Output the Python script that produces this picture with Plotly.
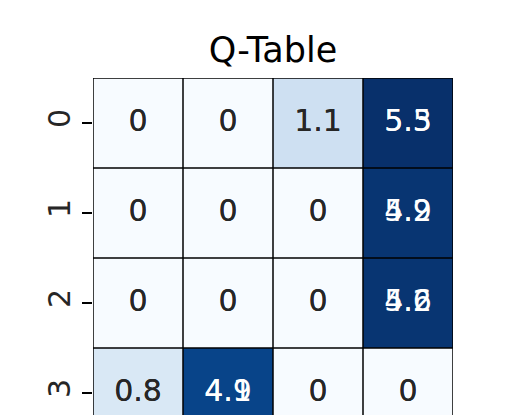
import plotly.graph_objects as go

# Visible part of the Q-table (rows = states, columns = actions)
states = [0, 1, 2, 3]
actions = [0, 1, 2, 3]
q_current = [
    [0.0, 0.0, 1.1, 5.3],
    [0.0, 0.0, 0.0, 5.2],
    [0.0, 0.0, 0.0, 5.2],
    [0.8, 4.9, 0.0, 0.0],
]
# values from the earlier drawing whose labels show underneath
q_previous = [
    [0.0, 0.0, 1.1, 5.5],
    [0.0, 0.0, 0.0, 4.9],
    [0.0, 0.0, 0.0, 4.6],
    [0.8, 4.1, 0.0, 0.0],
]

blues = [
    [0.0, "#f7fbff"], [0.125, "#deebf7"], [0.25, "#c6dbef"], [0.375, "#9ecae1"],
    [0.5, "#6baed6"], [0.625, "#4292c6"], [0.75, "#2171b5"], [0.875, "#08519c"],
    [1.0, "#08306b"],
]
vmax = max(max(r) for r in q_current)
FONT = "DejaVu Sans"

fig = go.Figure()
fig.add_trace(go.Heatmap(
    z=q_current, x=actions, y=states, colorscale=blues, zmin=0, zmax=vmax,
    showscale=False, hoverinfo="skip",
))

def fmt(v):
    return format(v, ".2g")

def text_layer(values):
    xs, ys, txt, cols = [], [], [], []
    for i, row in enumerate(values):
        for j, v in enumerate(row):
            xs.append(actions[j]); ys.append(states[i]); txt.append(fmt(v))
            cols.append("white" if q_current[i][j] / vmax > 0.5 else "#262626")
    return go.Scatter(x=xs, y=ys, text=txt, mode="text",
                      textfont=dict(family=FONT, size=30, color=cols),
                      hoverinfo="skip", showlegend=False)

fig.add_trace(text_layer(q_previous))
fig.add_trace(text_layer(q_current))

shapes = []
n_r, n_c = len(states), len(actions)
for k in range(n_c + 1):
    shapes.append(dict(type="line", xref="x", yref="y", x0=k - 0.5, x1=k - 0.5,
                       y0=-0.5, y1=n_r - 0.5, line=dict(color="black", width=1.5)))
for k in range(n_r + 1):
    shapes.append(dict(type="line", xref="x", yref="y", x0=-0.5, x1=n_c - 0.5,
                       y0=k - 0.5, y1=k - 0.5, line=dict(color="black", width=1.5)))

fig.update_layout(
    width=517, height=415,
    margin=dict(l=85, r=72, t=70, b=8),
    paper_bgcolor="white", plot_bgcolor="white",
    shapes=shapes,
    title=dict(text="Q-Table", x=0.5, xref="paper", y=1 - 42 / 415, yref="container",
               xanchor="center", yanchor="middle",
               font=dict(family=FONT, size=35, color="black")),
    xaxis=dict(range=[-0.5, 3.5], showgrid=False, zeroline=False, showticklabels=False,
               ticks=""),
    yaxis=dict(range=[3.244, -0.5], showgrid=False, zeroline=False,
               tickmode="array", tickvals=states, ticktext=[str(s) for s in states],
               ticks="outside", ticklen=10, tickwidth=1.5, tickcolor="black",
               tickangle=-90, tickfont=dict(family=FONT, size=30, color="#262626")),
    showlegend=False,
)

fig.write_html("out.html")
